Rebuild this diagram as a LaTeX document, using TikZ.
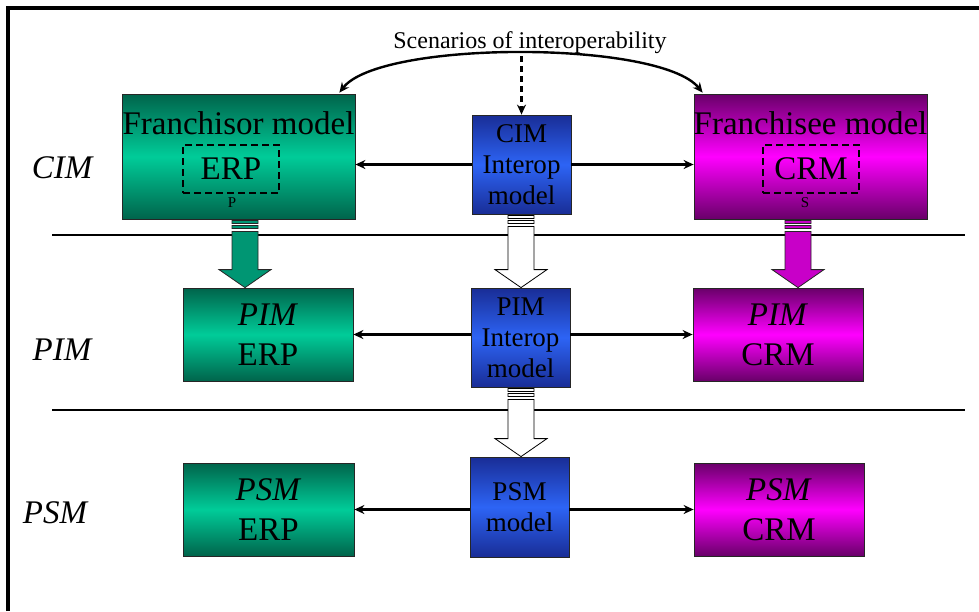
\documentclass[tikz,border=0pt]{standalone}
\usepackage{fontspec}
\setmainfont{Liberation Serif}
\usetikzlibrary{arrows.meta,calc}
\definecolor{grnD}{RGB}{0,100,75}
\definecolor{grnL}{RGB}{0,204,153}
\definecolor{grnM}{RGB}{0,150,115}
\definecolor{magD}{RGB}{105,0,105}
\definecolor{magL}{RGB}{255,0,255}
\definecolor{magM}{RGB}{200,0,200}
\definecolor{bluD}{RGB}{25,45,150}
\definecolor{bluL}{RGB}{45,100,245}
% striped block arrow: style, x coordinate, from node, to node
\newcommand{\stripedarrow}[4]{%
  \path[#1] let \p1=(#3.south -| #2), \p2=(#4.north -| #2) in
    (\x1-13pt,\y1-12pt) -- (\x1-13pt,\y2+18pt) -- (\x1-26pt,\y2+18pt) -- (\p2)
    -- (\x1+26pt,\y2+18pt) -- (\x1+13pt,\y2+18pt) -- (\x1+13pt,\y1-12pt) -- cycle
    (\x1-13pt,\y1-1pt) rectangle (\x1+13pt,\y1-4pt)
    (\x1-13pt,\y1-6pt) rectangle (\x1+13pt,\y1-9pt);
}

\begin{document}
\begin{tikzpicture}[x=1pt,y=-1pt,
  box/.style={draw=black!85,line width=0.8pt,inner sep=0pt,align=center},
  grnbox/.style={box,top color=grnD,bottom color=grnD,middle color=grnL},
  magbox/.style={box,top color=magD,bottom color=magD,middle color=magL},
  blubox/.style={box,top color=bluD,bottom color=bluD,middle color=bluL},
  bigtxt/.style={font=\fontsize{33}{40}\selectfont},
  midtxt/.style={font=\fontsize{27}{31}\selectfont},
  dashbox/.style={draw,line width=2.8pt,dash pattern=on 7pt off 4pt,inner sep=0pt,
    minimum width=96pt,minimum height=48pt,font=\fontsize{33}{40}\selectfont},
  link/.style={line width=2.4pt,-{Stealth[length=10pt,width=9pt]}},
  grnarrow/.style={draw=black!85,line width=0.8pt,fill=grnM},
  magarrow/.style={draw=black!85,line width=0.8pt,fill=magM},
  whtarrow/.style={draw=black,line width=0.8pt,fill=white}]
\useasboundingbox (0,0) rectangle (979,611);
\fill[white] (0,0) rectangle (979,611);
\draw[line width=3.5pt] (8,611) -- (8,8) -- (979,8);
% level separators
\draw[line width=2pt] (52,235) -- (965,235);
\draw[line width=2pt] (52,410) -- (965,410);
% level labels
\node[font=\fontsize{33}{40}\selectfont\itshape] (lcim) at (62,168) {CIM};
\node[font=\fontsize{33}{40}\selectfont\itshape] (lpim) at (62,350) {PIM};
\node[font=\fontsize{33}{40}\selectfont\itshape] (lpsm) at (55,513) {PSM};
% CIM level
\node[grnbox,minimum width=233pt,minimum height=125pt] (frsr) at (238.5,156.5) {};
\node[bigtxt] (frsrt) at (238.5,123) {Franchisor model};
\node[dashbox] (frsrd) at (231,169) {ERP};
\node[font=\fontsize{15}{15}\selectfont] (frsrp) at (232,203) {P};
\node[blubox,midtxt,minimum width=99pt,minimum height=99pt] (cimI) at (521.5,164.5)
  {CIM\\Interop\\model};
\node[magbox,minimum width=233pt,minimum height=125pt] (frsee) at (810.5,156.5) {};
\node[bigtxt] (frseet) at (810.5,123) {Franchisee model};
\node[dashbox] (frseed) at (811,169) {CRM};
\node[font=\fontsize{15}{15}\selectfont] (frsees) at (805,203) {S};
% PIM level
\node[grnbox,bigtxt,minimum width=170pt,minimum height=93pt] (pimE) at (268,334.5)
  {\textit{PIM}\\ERP};
\node[blubox,midtxt,minimum width=99pt,minimum height=99pt] (pimI) at (520.5,337.5)
  {PIM\\Interop\\model};
\node[magbox,bigtxt,minimum width=170pt,minimum height=93pt] (pimC) at (778,334.5)
  {\textit{PIM}\\CRM};
% PSM level
\node[grnbox,bigtxt,minimum width=171pt,minimum height=93pt] (psmE) at (268.5,509.5)
  {\textit{PSM}\\ERP};
\node[blubox,midtxt,minimum width=99pt,minimum height=100pt] (psmI) at (519.5,507)
  {PSM\\model};
\node[magbox,bigtxt,minimum width=170pt,minimum height=93pt] (psmC) at (779,509.5)
  {\textit{PSM}\\CRM};
% scenarios
\node[font=\fontsize{24}{28}\selectfont,inner sep=2pt] (scen) at (530,43)
  {Scenarios of interoperability};
\draw[line width=2.4pt,{Stealth[length=10pt,width=9pt]}-{Stealth[length=10pt,width=9pt]}]
  ($(frsr.north east)+(-16,-1)$) .. controls (380,40) and (660,40) .. ($(frsee.north west)+(9,-1)$);
\draw[link,line width=3pt,dash pattern=on 6pt off 4pt] (cimI.north |- scen.south) -- (cimI.north);
% interop links
\draw[link] (cimI.west) -- (cimI.west -| frsr.east);
\draw[link] (cimI.east) -- (cimI.east -| frsee.west);
\draw[link] (pimI.west |- pimE.east) -- (pimE.east);
\draw[link] (pimI.east |- pimC.west) -- (pimC.west);
\draw[link] (psmI.west |- psmE.east) -- (psmE.east);
\draw[link] (psmI.east |- psmC.west) -- (psmC.west);
% transformations
\coordinate (ga) at (245,0);
\coordinate (wa) at (521,0);
\coordinate (ma) at (798,0);
\stripedarrow{grnarrow}{ga}{frsr}{pimE}
\stripedarrow{whtarrow}{wa}{cimI}{pimI}
\stripedarrow{whtarrow}{wa}{pimI}{psmI}
\stripedarrow{magarrow}{ma}{frsee}{pimC}
\end{tikzpicture}
\end{document}
